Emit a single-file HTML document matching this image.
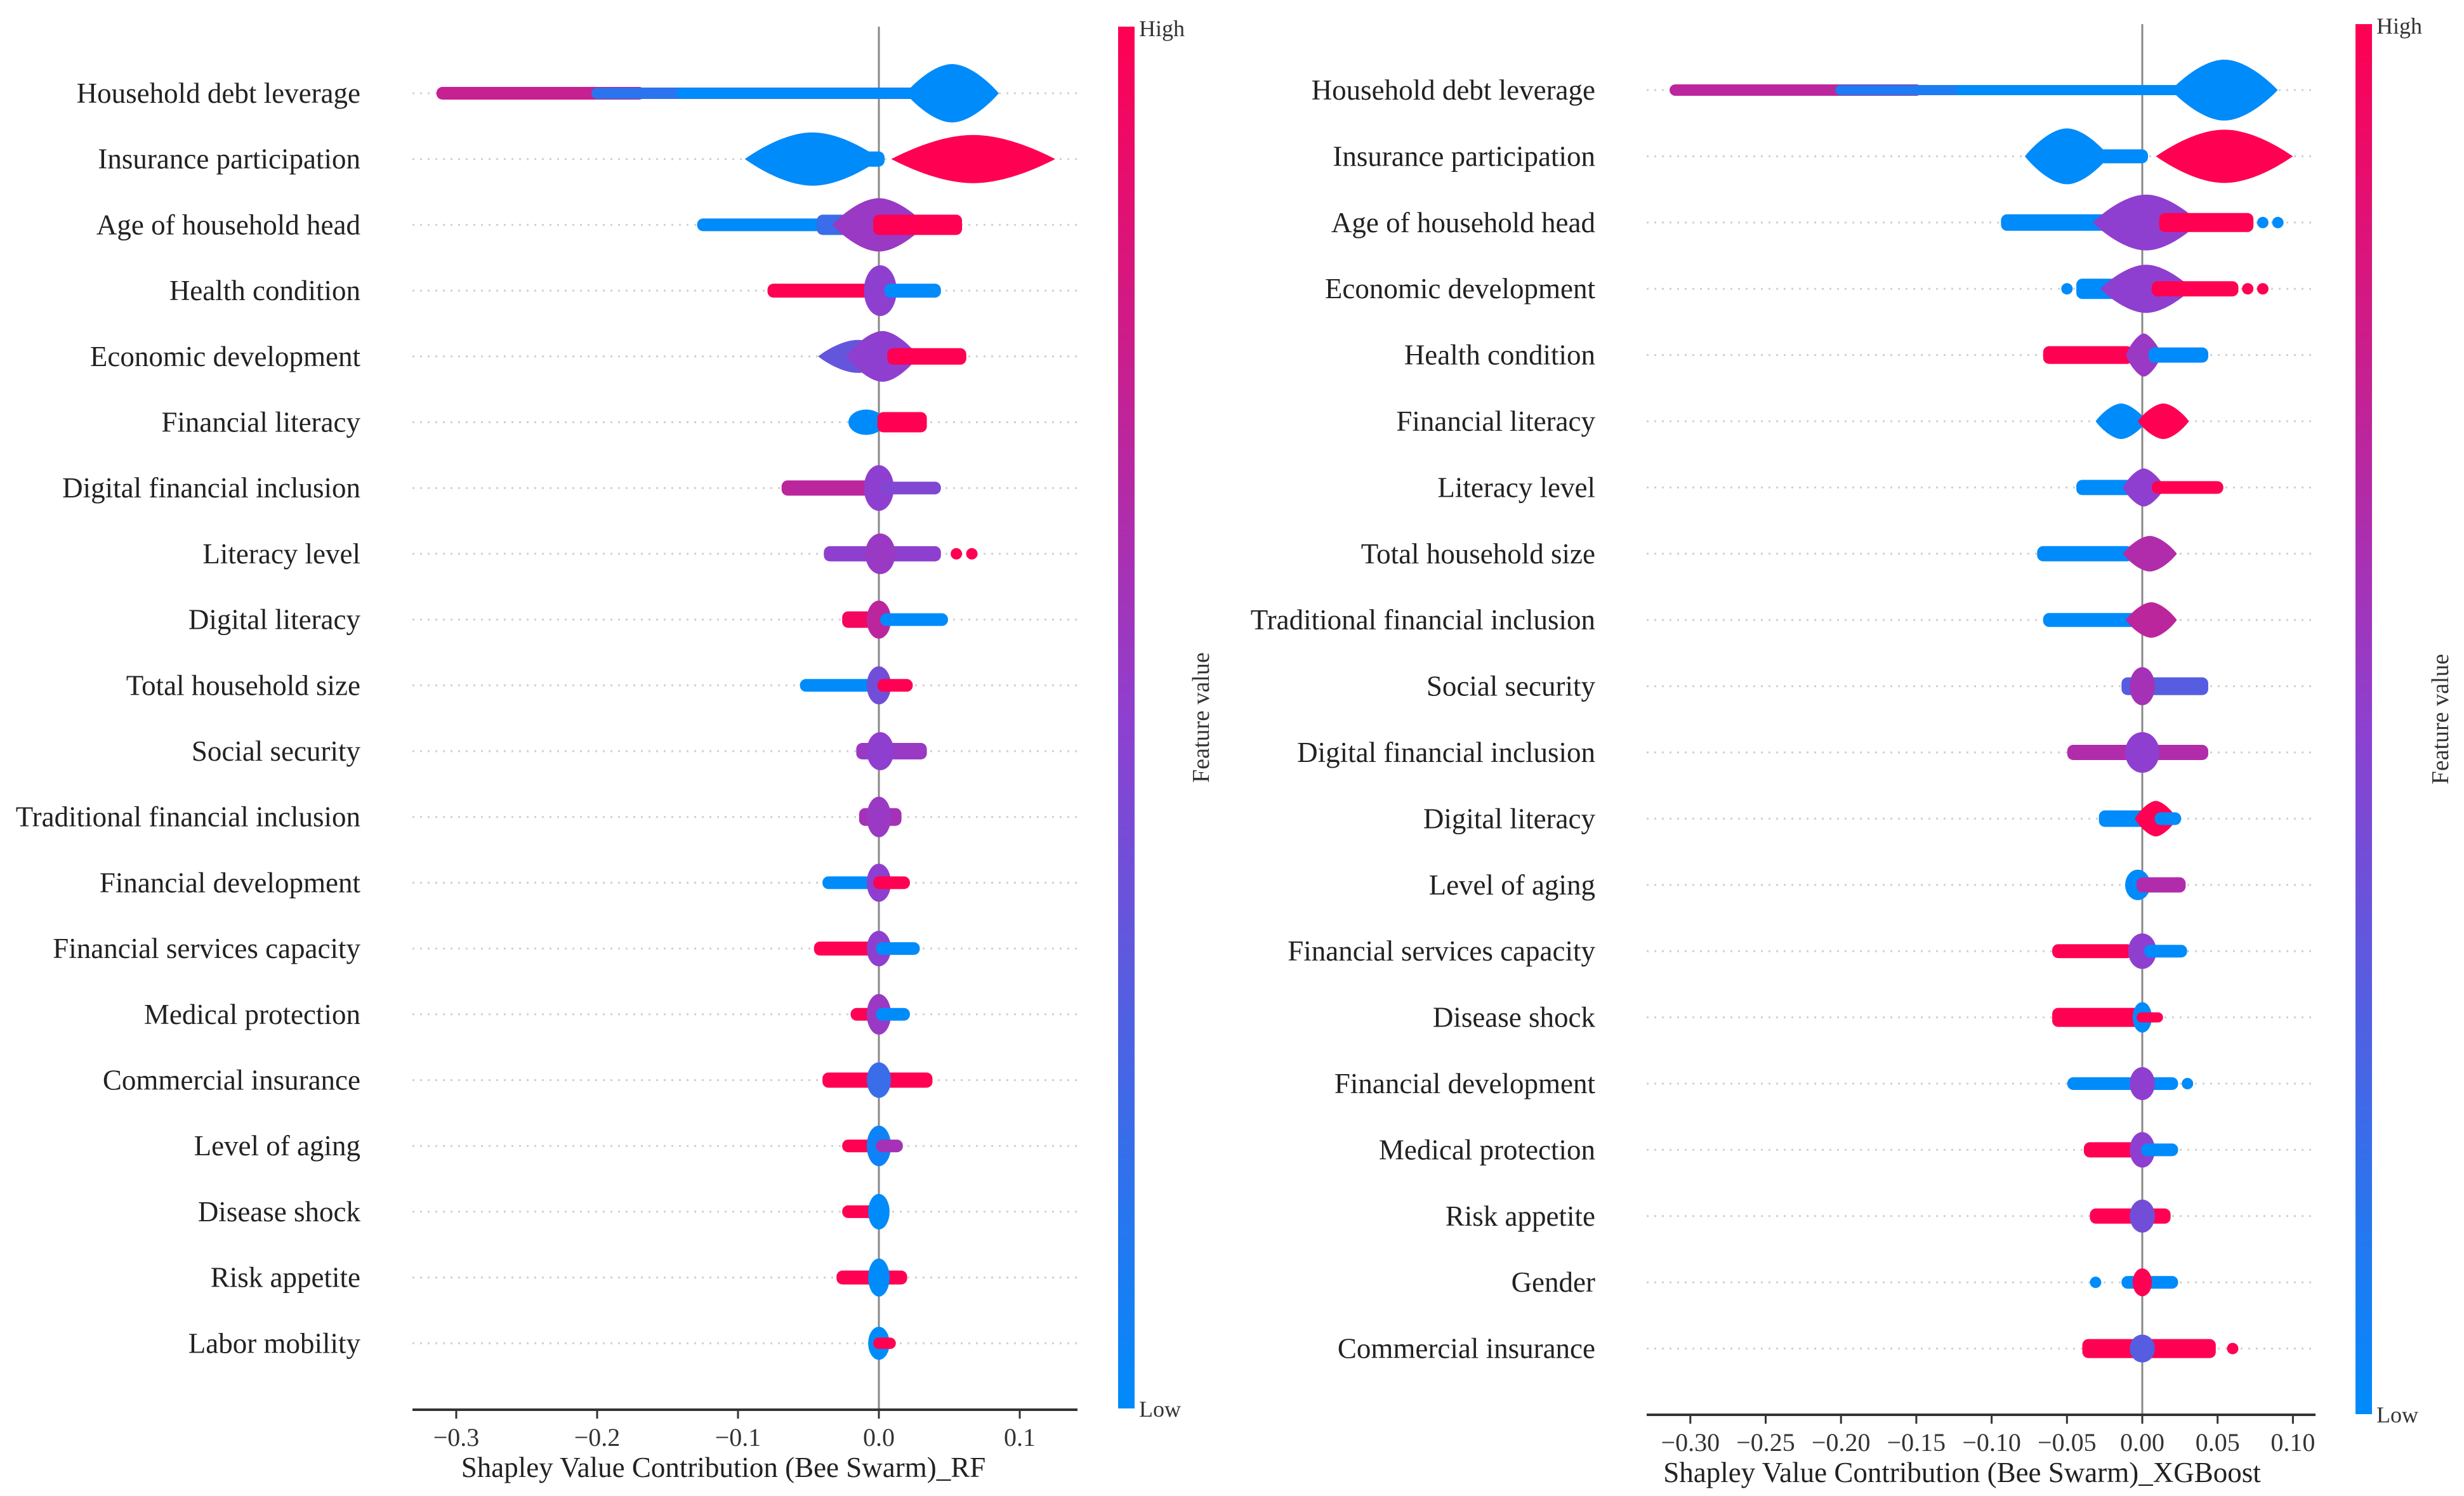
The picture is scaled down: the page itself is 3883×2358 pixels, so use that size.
<!DOCTYPE html>
<html><head><meta charset="utf-8">
<style>
html,body{margin:0;padding:0;background:#fff;}
svg{display:block;font-family:"Liberation Serif","DejaVu Serif",serif;}
</style></head>
<body>
<svg id="chart" width="3883" height="2358" viewBox="0 0 3883 2358" xmlns="http://www.w3.org/2000/svg">
<defs>
<linearGradient id="cbar" x1="0" y1="1" x2="0" y2="0">
<stop offset="0" stop-color="#008bfb"/><stop offset="0.5" stop-color="#8f3fcf"/><stop offset="1" stop-color="#ff0052"/>
</linearGradient>
</defs>
</svg>
<script>
// ---------- DATA ----------
const rfFeatures = ["Household debt leverage","Insurance participation","Age of household head","Health condition","Economic development","Financial literacy ","Digital financial inclusion","Literacy level","Digital literacy","Total household size","Social security","Traditional financial inclusion","Financial development","Financial services capacity","Medical protection","Commercial insurance","Level of aging","Disease shock","Risk appetite","Labor mobility"];
const xgbFeatures = ["Household debt leverage","Insurance participation","Age of household head","Economic development","Health condition","Financial literacy","Literacy level","Total household size","Traditional financial inclusion","Social security","Digital financial inclusion","Digital literacy","Level of aging","Financial services capacity","Disease shock","Financial development","Medical protection","Risk appetite","Gender","Commercial insurance"];
const rfTicks = [-0.3,-0.2,-0.1,0.0,0.1];
const rfTickLabels = ["\u22120.3","\u22120.2","\u22120.1","0.0","0.1"];
const xgbTicks = [-0.30,-0.25,-0.20,-0.15,-0.10,-0.05,0.00,0.05,0.10];
const xgbTickLabels = ["\u22120.30","\u22120.25","\u22120.20","\u22120.15","\u22120.10","\u22120.05","0.00","0.05","0.10"];
// swarm segments per feature: [shapMin, shapMax, halfDensity, featureColor(0=low,1=high)]
const rfSwarm = [
 [[-0.31,-0.17,10,0.75],[-0.2,0.03,9,0.15],[-0.14,0.03,8,0],[0.022,0.082,46,0]],
 [[-0.092,-0.002,42,0],[-0.03,0.0,12,0],[0.012,0.122,38,1]],
 [[-0.125,-0.03,10,0],[-0.04,0.0,16,0.2],[-0.03,0.03,42,0.55],[0.0,0.055,16,1]],
 [[-0.075,-0.01,11,1],[-0.007,0.009,40,0.5],[0.008,0.04,11,0]],
 [[-0.04,0.01,26,0.35],[-0.02,0.025,40,0.5],[0.01,0.058,13,1]],
 [[-0.018,0.0,20,0],[0.003,0.03,16,1]],
 [[-0.065,-0.01,12,0.7],[-0.007,0.007,36,0.5],[0.005,0.04,10,0.45]],
 [[-0.035,0.04,12,0.5],[-0.006,0.008,32,0.55],[0.055,0.055,9,1],[0.066,0.066,9,1]],
 [[-0.022,0.004,13,0.95],[-0.005,0.005,30,0.7],[0.005,0.045,10,0]],
 [[-0.052,0.0,10,0],[-0.005,0.005,30,0.4],[0.003,0.02,10,1]],
 [[-0.012,0.03,13,0.55],[-0.005,0.007,30,0.5]],
 [[-0.01,0.012,14,0.6],[-0.005,0.005,32,0.55]],
 [[-0.036,0.0,10,0],[-0.005,0.005,30,0.5],[0.0,0.018,10,1]],
 [[-0.042,0.0,11,1],[-0.005,0.005,28,0.5],[0.002,0.025,10,0]],
 [[-0.016,0.0,10,1],[-0.005,0.005,32,0.55],[0.002,0.018,10,0]],
 [[-0.036,0.034,12,1],[-0.005,0.005,28,0.2]],
 [[-0.022,0.0,10,1],[-0.005,0.005,32,0.05],[0.002,0.013,10,0.6]],
 [[-0.022,0.0,10,1],[-0.004,0.004,28,0]],
 [[-0.026,0.016,11,1],[-0.004,0.004,30,0]],
 [[-0.004,0.004,26,0],[0.0,0.008,9,1]]
];
const xgbSwarm = [
 [[-0.31,-0.15,9,0.7],[-0.2,0.03,8,0.1],[-0.12,0.03,8,0],[0.022,0.087,48,0]],
 [[-0.075,-0.025,44,0],[-0.04,0.0,11,0],[0.012,0.097,42,1]],
 [[-0.09,-0.02,13,0],[-0.03,0.035,44,0.5],[0.015,0.07,15,1],[0.08,0.08,9,0],[0.09,0.09,9,0]],
 [[-0.05,-0.05,9,0],[-0.04,-0.01,16,0],[-0.025,0.03,38,0.5],[0.01,0.06,12,1],[0.07,0.07,9,1],[0.08,0.08,9,1]],
 [[-0.062,-0.01,14,1],[-0.008,0.01,34,0.55],[0.008,0.04,12,0]],
 [[-0.028,0.0,28,0],[0.0,0.028,28,1]],
 [[-0.04,0.0,12,0],[-0.01,0.012,30,0.5],[0.01,0.05,10,1]],
 [[-0.066,-0.01,12,0],[-0.01,0.02,28,0.65]],
 [[-0.062,0.0,11,0],[-0.008,0.02,28,0.7]],
 [[-0.01,0.04,14,0.3],[-0.005,0.005,30,0.6]],
 [[-0.046,0.04,12,0.65],[-0.008,0.008,32,0.5]],
 [[-0.025,0.0,13,0],[-0.002,0.02,28,1],[0.012,0.022,10,0]],
 [[-0.008,0.002,24,0],[0.0,0.025,12,0.65]],
 [[-0.056,-0.01,11,1],[-0.006,0.006,28,0.5],[0.005,0.026,10,0]],
 [[-0.056,0.0,15,1],[-0.003,0.003,24,0],[0.0,0.01,8,1]],
 [[-0.046,0.02,10,0],[-0.005,0.005,26,0.5],[0.03,0.03,9,0]],
 [[-0.035,0.0,12,1],[-0.005,0.005,28,0.5],[0.003,0.02,10,0]],
 [[-0.031,0.015,12,1],[-0.005,0.005,26,0.4]],
 [[-0.031,-0.031,9,0],[-0.01,0.02,10,0],[-0.003,0.003,22,1]],
 [[-0.036,0.045,15,1],[-0.005,0.005,22,0.3],[0.06,0.06,9,1]]
];

// ---------- DRAW ----------
const svg = document.getElementById('chart');
const NS = 'http://www.w3.org/2000/svg';
function mk(tag, attrs, parent){const e=document.createElementNS(NS,tag);for(const k in attrs)e.setAttribute(k,attrs[k]);(parent||svg).appendChild(e);return e;}
function lerp(a,b,t){return Math.round(a+(b-a)*t);}
function colorOf(c){
  const s0=[0,139,251], s1=[143,63,207], s2=[255,0,82];
  let a,b,t; if(c<0.5){a=s0;b=s1;t=c/0.5;}else{a=s1;b=s2;t=(c-0.5)/0.5;}
  return `rgb(${lerp(a[0],b[0],t)},${lerp(a[1],b[1],t)},${lerp(a[2],b[2],t)})`;
}

function panel(cfg){
  const g = mk('g',{});
  
  
  const xs = v => cfg.zeroX + v*cfg.pxPerUnit;
  const ys = i => cfg.y0 + i*cfg.rowStep;
  cfg.features.forEach((f,i)=>{
    const l = mk('line',{x1:cfg.axX0,x2:cfg.axX1,y1:ys(i),y2:ys(i),stroke:'#d0d0d0','stroke-width':3,'stroke-dasharray':'3 9'},g);
    
    
  });
  const z = mk('line',{x1:xs(0),x2:xs(0),y1:cfg.top,y2:cfg.axY,stroke:'#888','stroke-width':3},g);
  
  
  cfg.swarm.forEach((segs,i)=>{
    const rg = mk('g',{},g);
    
    
    segs.forEach(s=>{
      const x0=xs(s[0]), x1=xs(s[1]), h=s[2], col=colorOf(s[3]);
      const cy=ys(i);
      let el;
      if(h>18){
        const w=x1-x0;
        if(w<40){
          el = mk('ellipse',{cx:(x0+x1)/2,cy:cy,rx:w/2+8,ry:h,fill:col},rg);
        } else {
          const cx=(x0+x1)/2, a=x0-7, b=x1+7;
          const d=`M${a},${cy} C${a+w*0.15},${cy-h*0.5} ${cx-w*0.18},${cy-h} ${cx},${cy-h} C${cx+w*0.18},${cy-h} ${b-w*0.15},${cy-h*0.5} ${b},${cy} C${b-w*0.15},${cy+h*0.5} ${cx+w*0.18},${cy+h} ${cx},${cy+h} C${cx-w*0.18},${cy+h} ${a+w*0.15},${cy+h*0.5} ${a},${cy} Z`;
          el = mk('path',{d:d,fill:col},rg);
        }
      } else {
        const r=Math.min(h,9.5);
        el = mk('rect',{x:x0-9,y:cy-h,width:(x1-x0)+18,height:2*h,rx:r,ry:r,fill:col},rg);
      }
      
      
    });
  });
  cfg.features.forEach((f,i)=>{
    const t = mk('text',{x:cfg.labelX,y:ys(i)+15,'text-anchor':'end','font-size':45,fill:'#222'},g);
    t.textContent = f;
    
    
  });
  const ax = mk('line',{x1:cfg.axX0,x2:cfg.axX1,y1:cfg.axY,y2:cfg.axY,stroke:'#333','stroke-width':4},g);
  
  
  cfg.ticks.forEach((v,k)=>{
    const tk = mk('line',{x1:xs(v),x2:xs(v),y1:cfg.axY,y2:cfg.axY+14,stroke:'#333','stroke-width':3},g);
    
    
    const tl = mk('text',{x:xs(v),y:cfg.axY+57,'text-anchor':'middle','font-size':40,fill:'#333'},g);
    tl.textContent = cfg.tickLabels[k];
    
    
  });
  const xt = mk('text',{x:cfg.xTitleX,y:cfg.axY+106,'text-anchor':'middle','font-size':45,fill:'#222'},g);
  xt.textContent = cfg.xTitle;
  
  
  const cb = mk('rect',{x:cfg.cbX,y:cfg.top,width:26,height:cfg.cbBottom-cfg.top,fill:'url(#cbar)'},g);
  
  
  const hi = mk('text',{x:cfg.cbX+33,y:cfg.top+15,'font-size':36,fill:'#333'},g);
  hi.textContent='High';
  
  
  const lo = mk('text',{x:cfg.cbX+33,y:cfg.cbBottom+13,'font-size':36,fill:'#333'},g);
  lo.textContent='Low';
  
  
  const fv = mk('text',{x:cfg.fvX,y:(cfg.top+cfg.cbBottom)/2,'text-anchor':'middle','font-size':38,fill:'#333',transform:`rotate(-90 ${cfg.fvX} ${(cfg.top+cfg.cbBottom)/2})`},g);
  fv.textContent='Feature value';
  
  
}

panel({name:'rf-beeswarm-panel',features:rfFeatures,swarm:rfSwarm,ticks:rfTicks,tickLabels:rfTickLabels,
  zeroX:1385,pxPerUnit:2220,y0:147,rowStep:103.7,axX0:650,axX1:1698,axY:2222,top:42,labelX:568,
  xTitle:'Shapley Value Contribution (Bee Swarm)_RF',xTitleX:1140,cbX:1762,cbBottom:2220,fvX:1905});
panel({name:'xgboost-beeswarm-panel',features:xgbFeatures,swarm:xgbSwarm,ticks:xgbTicks,tickLabels:xgbTickLabels,
  zeroX:3376,pxPerUnit:2374,y0:142,rowStep:104.4,axX0:2595,axX1:3649,axY:2230,top:38,labelX:2514,
  xTitle:'Shapley Value Contribution (Bee Swarm)_XGBoost',xTitleX:3092,cbX:3712,cbBottom:2229,fvX:3858});
</script>
</body></html>
